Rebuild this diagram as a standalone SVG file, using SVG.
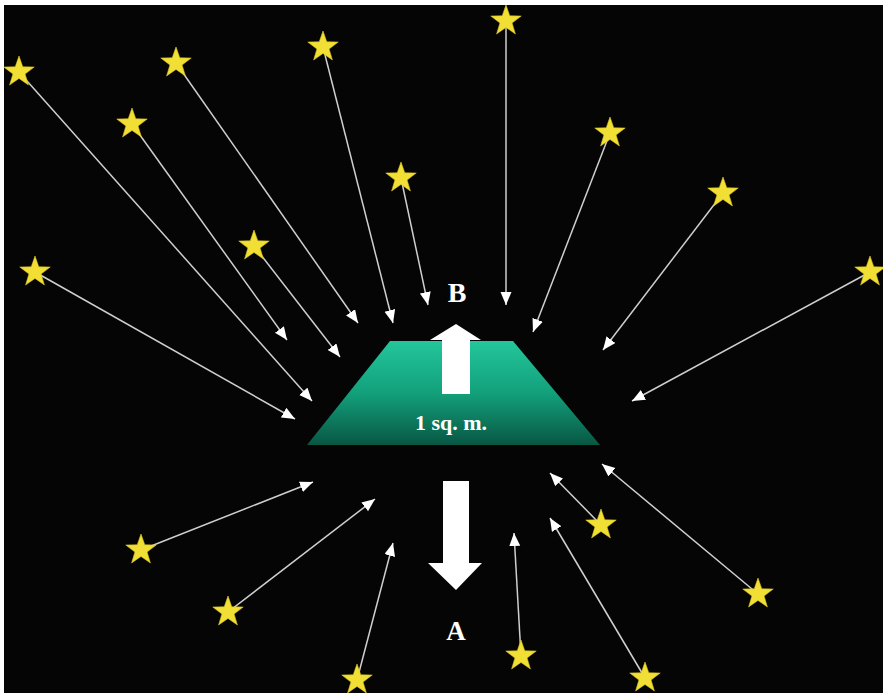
<svg xmlns="http://www.w3.org/2000/svg" width="883" height="693" viewBox="0 0 883 693">
<defs>
<style>
.ray{stroke:#cfcfcf;stroke-width:1.5;fill:none;marker-end:url(#ah)}
.star{fill:#f2df35;stroke:#d9c420;stroke-width:0.6}
.lbl{font-family:"Liberation Serif","Times New Roman",serif;font-weight:bold;fill:#ffffff;text-anchor:middle}
</style>
<marker id="ah" markerUnits="userSpaceOnUse" markerWidth="14" markerHeight="12" refX="13" refY="5.5" orient="auto">
<path d="M0,0 L13,5.5 L0,11 z" fill="#ffffff"/>
</marker>
<polygon id="st" points="0,-16 3.76,-5.18 15.22,-4.94 6.09,1.98 9.4,12.94 0,6.4 -9.4,12.94 -6.09,1.98 -15.22,-4.94 -3.76,-5.18"/>
<linearGradient id="tg" x1="0" y1="0" x2="0" y2="1">
<stop offset="0" stop-color="#24c69b"/>
<stop offset="0.5" stop-color="#12a07b"/>
<stop offset="1" stop-color="#095743"/>
</linearGradient>
</defs>
<rect x="0" y="0" width="883" height="693" fill="#ffffff"/>
<rect x="4" y="5" width="879" height="688" fill="#050505"/>
<g id="connectors">
<line class="ray" x1="19" y1="72" x2="312" y2="401"/>
<line class="ray" x1="132" y1="124" x2="287" y2="340"/>
<line class="ray" x1="176" y1="63" x2="358" y2="323"/>
<line class="ray" x1="254" y1="246" x2="340" y2="357"/>
<line class="ray" x1="323" y1="47" x2="393" y2="323"/>
<line class="ray" x1="401" y1="178" x2="428" y2="305"/>
<line class="ray" x1="506" y1="21" x2="506" y2="305"/>
<line class="ray" x1="610" y1="133" x2="533" y2="332"/>
<line class="ray" x1="723" y1="193" x2="603" y2="350"/>
<line class="ray" x1="870" y1="272" x2="632" y2="401"/>
<line class="ray" x1="35" y1="272" x2="295" y2="419"/>
<line class="ray" x1="141" y1="550" x2="313" y2="482"/>
<line class="ray" x1="228" y1="612" x2="375" y2="499"/>
<line class="ray" x1="357" y1="680" x2="393" y2="543"/>
<line class="ray" x1="521" y1="656" x2="514" y2="533"/>
<line class="ray" x1="601" y1="525" x2="550" y2="473"/>
<line class="ray" x1="645" y1="678" x2="550" y2="518"/>
<line class="ray" x1="758" y1="594" x2="602" y2="464"/>
</g>
<g id="stars">
<g id="star1"><use href="#st" class="star" x="19" y="72"/></g>
<g id="star2"><use href="#st" class="star" x="176" y="63"/></g>
<g id="star3"><use href="#st" class="star" x="323" y="47"/></g>
<g id="star4"><use href="#st" class="star" x="506" y="21"/></g>
<g id="star5"><use href="#st" class="star" x="132" y="124"/></g>
<g id="star6"><use href="#st" class="star" x="610" y="133"/></g>
<g id="star7"><use href="#st" class="star" x="401" y="178"/></g>
<g id="star8"><use href="#st" class="star" x="723" y="193"/></g>
<g id="star9"><use href="#st" class="star" x="254" y="246"/></g>
<g id="star10"><use href="#st" class="star" x="35" y="272"/></g>
<g id="star11"><use href="#st" class="star" x="870" y="272"/></g>
<g id="star12"><use href="#st" class="star" x="141" y="550"/></g>
<g id="star13"><use href="#st" class="star" x="228" y="612"/></g>
<g id="star14"><use href="#st" class="star" x="601" y="525"/></g>
<g id="star15"><use href="#st" class="star" x="758" y="594"/></g>
<g id="star16"><use href="#st" class="star" x="521" y="656"/></g>
<g id="star17"><use href="#st" class="star" x="357" y="680"/></g>
<g id="star18"><use href="#st" class="star" x="645" y="678"/></g>
</g>
<g id="surface">
<polygon points="390,341 513,341 600,445 307,445" fill="url(#tg)"/>
<text class="lbl" x="451" y="430" font-size="22">1 sq. m.</text>
</g>
<g id="arrowB">
<polygon points="442,394 442,340 430,340 456,324 481,340 470,340 470,394" fill="#ffffff"/>
<text class="lbl" x="457" y="302" font-size="28">B</text>
</g>
<g id="arrowA">
<polygon points="443,481 469,481 469,563 482,563 456,590 428,563 443,563" fill="#ffffff"/>
<text class="lbl" x="456" y="640" font-size="27">A</text>
</g>
</svg>
